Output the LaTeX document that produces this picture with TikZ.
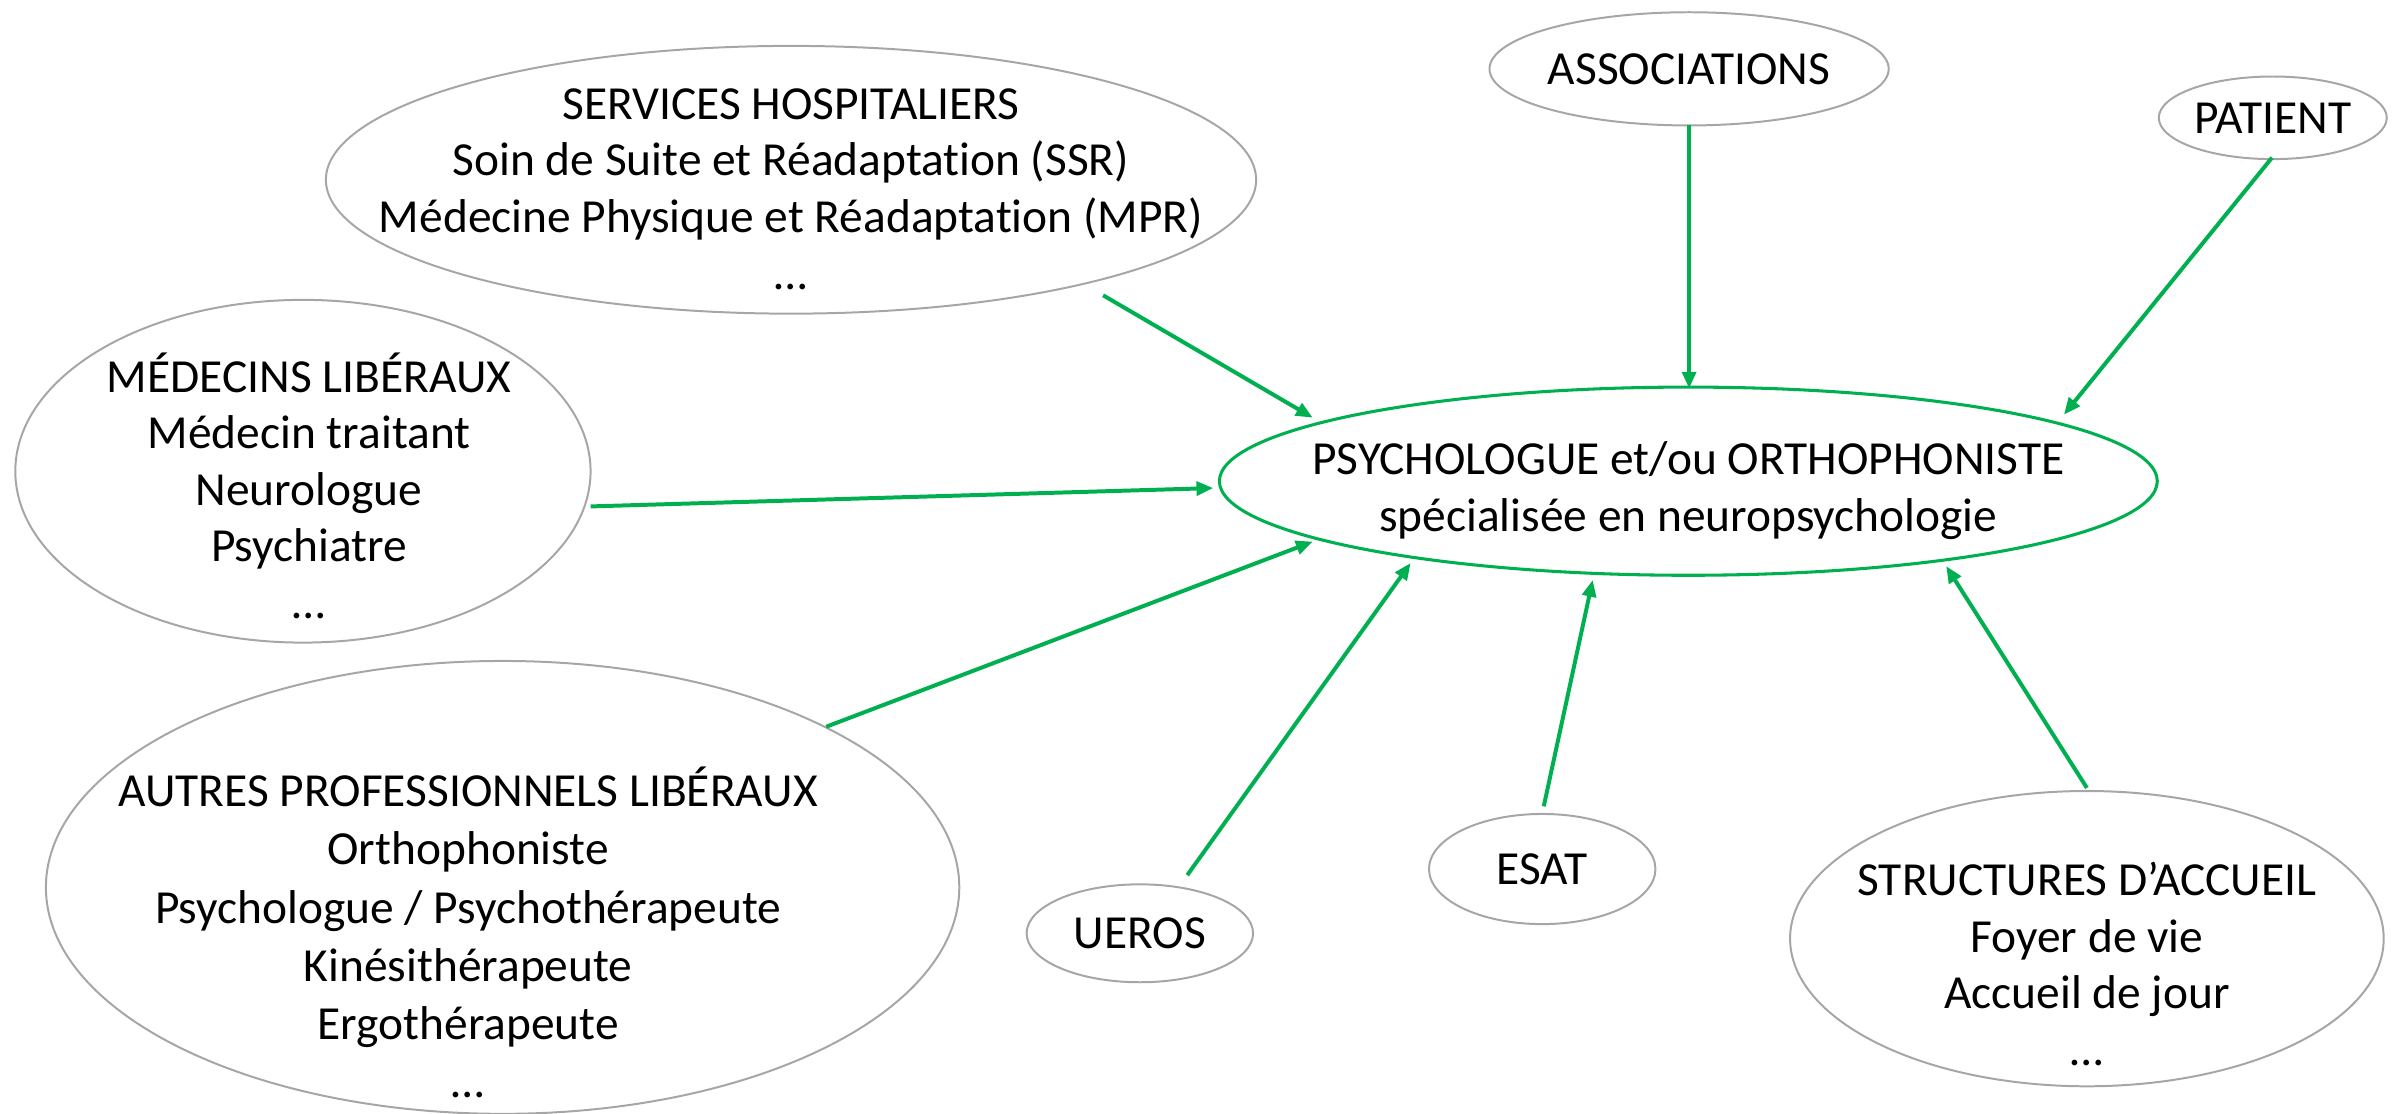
\documentclass[tikz,border=0pt]{standalone}
\usepackage{fontspec}
\setmainfont{Carlito}[Ligatures=NoCommon]
\usetikzlibrary{shapes.geometric,arrows.meta}
\definecolor{ggreen}{RGB}{0,176,80}
\definecolor{ggray}{RGB}{166,166,166}
\begin{document}
\begin{tikzpicture}[x=1pt,y=-1pt,
  bub/.style={ellipse, draw=ggray, line width=1.3pt, inner sep=0pt, font=\fontsize{31}{37}\selectfont},
  hub/.style={ellipse, draw=ggreen, line width=2pt, inner sep=0pt},
  lbl/.style={align=center, font=\fontsize{31}{37}\selectfont, inner sep=0pt},
  link/.style={draw=ggreen, line width=2.6pt, -{Triangle[length=11pt,width=9pt]}}]
\useasboundingbox (0,0) rectangle (1568,728);

% central node
\node[hub, minimum width=613pt, minimum height=123pt] (hubE) at (1103.5,314.5) {};
\node[lbl] (hubT) at (1103.5,320.5) {PSYCHOLOGUE et/ou ORTHOPHONISTE\\spécialisée en neuropsychologie};

% services hospitaliers
\node[bub, minimum width=608pt, minimum height=175pt] (svcE) at (517,117.5) {};
\node[lbl] (svcT) at (517,123.5) {SERVICES HOSPITALIERS\\Soin de Suite et Réadaptation (SSR)\\Médecine Physique et Réadaptation (MPR)\\…};

% associations
\node[bub, minimum width=238pt, minimum height=74pt] (asso) at (1104,45) {ASSOCIATIONS};

% patient
\node[bub, minimum width=149pt, minimum height=54pt] (pat) at (1485.5,77) {PATIENT};

% medecins liberaux
\node[bub, minimum width=376pt, minimum height=224pt] (medE) at (198,308) {};
\node[lbl] (medT) at (202,317.5) {MÉDECINS LIBÉRAUX\\Médecin traitant\\Neurologue\\Psychiatre\\…};

% autres professionnels
\node[bub, minimum width=597pt, minimum height=296pt] (autE) at (328.5,580) {};
\node[lbl, font=\fontsize{31}{38}\selectfont] (autT) at (306,609.5) {AUTRES PROFESSIONNELS LIBÉRAUX\\Orthophoniste\\Psychologue / Psychothérapeute\\Kinésithérapeute\\Ergothérapeute\\…};

% UEROS
\node[bub, minimum width=148pt, minimum height=64pt] (ueros) at (745,610) {UEROS};

% ESAT
\node[bub, minimum width=148pt, minimum height=72pt] (esat) at (1008,568) {ESAT};

% structures d'accueil
\node[bub, minimum width=388pt, minimum height=193pt] (strE) at (1364,613.5) {};
\node[lbl] (strT) at (1364,630) {STRUCTURES D’ACCUEIL\\Foyer de vie\\Accueil de jour\\…};

% connector end points
\coordinate (svcS) at (721,193);   \coordinate (svcH) at (858,273);
\coordinate (assoS) at (1104,82);  \coordinate (assoH) at (1104,254);
\coordinate (patS) at (1485,103);  \coordinate (patH) at (1349,271);
\coordinate (medS) at (386,331);   \coordinate (medH) at (793,319);
\coordinate (autS) at (540,475);   \coordinate (autH) at (858,354);
\coordinate (uerS) at (776,572);   \coordinate (uerH) at (922,368);
\coordinate (esaS) at (1009,527);  \coordinate (esaH) at (1041,379);
\coordinate (strS) at (1364,515);  \coordinate (strH) at (1272,370);

\draw[link] (svcS) -- (svcH);
\draw[link] (assoS) -- (assoH);
\draw[link] (patS) -- (patH);
\draw[link] (medS) -- (medH);
\draw[link] (autS) -- (autH);
\draw[link] (uerS) -- (uerH);
\draw[link] (esaS) -- (esaH);
\draw[link] (strS) -- (strH);
\end{tikzpicture}
\end{document}
